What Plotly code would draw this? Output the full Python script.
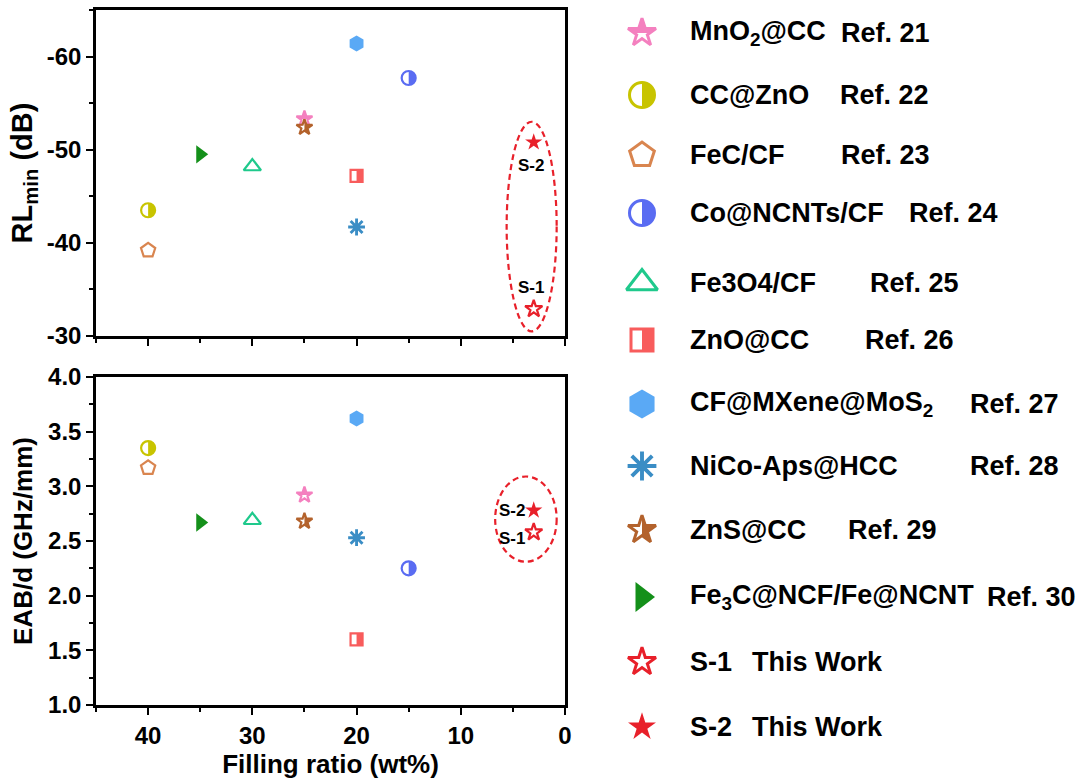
import math
import plotly.graph_objects as go

# ---------------- data ----------------
materials = ["MnO2@CC", "CC@ZnO", "FeC/CF", "Co@NCNTs/CF", "Fe3O4/CF", "ZnO@CC",
             "CF@MXene@MoS2", "NiCo-Aps@HCC", "ZnS@CC", "Fe3C@NCF/Fe@NCNT", "S-1", "S-2"]
legend_labels = ["MnO<sub>2</sub>@CC", "CC@ZnO", "FeC/CF", "Co@NCNTs/CF", "Fe3O4/CF", "ZnO@CC",
                 "CF@MXene@MoS<sub>2</sub>", "NiCo-Aps@HCC", "ZnS@CC",
                 "Fe<sub>3</sub>C@NCF/Fe@NCNT", "S-1", "S-2"]
references = ["Ref. 21", "Ref. 22", "Ref. 23", "Ref. 24", "Ref. 25", "Ref. 26",
              "Ref. 27", "Ref. 28", "Ref. 29", "Ref. 30", "This Work", "This Work"]
filling_ratio = [25, 40, 40, 15, 30, 20, 20, 20, 25, 35, 3, 3]          # wt%
rl_min = [-53.3, -43.5, -39.2, -57.7, -48.2, -47.2, -61.4, -41.7, -52.4, -49.5, -32.9, -50.8]  # dB
eab_d = [2.92, 3.35, 3.17, 2.25, 2.69, 1.60, 3.62, 2.53, 2.68, 2.67, 2.58, 2.78]              # GHz/mm

x_ticks = [0, 10, 20, 30, 40]
rl_ticks = [-60, -50, -40, -30]
rl_tick_text = ["-60", "-50", "-40", "-30"]
eab_ticks = [1.0, 1.5, 2.0, 2.5, 3.0, 3.5, 4.0]
eab_tick_text = ["1.0", "1.5", "2.0", "2.5", "3.0", "3.5", "4.0"]

# ---------------- styles (not data) ----------------
STY = {
    "MnO2@CC":          dict(c="#F480BF", sym="star", half="top", s=12, ls=21),
    "CC@ZnO":           dict(c="#C8C400", sym="circle", half="right", s=14, ls=25),
    "FeC/CF":           dict(c="#D9854F", sym="pentagon-open", s=15, ls=26),
    "Co@NCNTs/CF":      dict(c="#5A6CF2", sym="circle", half="right", s=14, ls=25),
    "Fe3O4/CF":         dict(c="#1FC98C", sym="triangle-up-open", s=15, ls=27),
    "ZnO@CC":           dict(c="#F85C5C", sym="square", half="right", s=12, ls=22),
    "CF@MXene@MoS2":    dict(c="#5AA9F5", sym="hexagon", s=16, ls=29),
    "NiCo-Aps@HCC":     dict(c="#3A8DC5", sym="asterisk", s=14, ls=24),
    "ZnS@CC":           dict(c="#B3622C", sym="star", half="right", s=12, ls=21),
    "Fe3C@NCF/Fe@NCNT": dict(c="#14901A", sym="triangle-right", s=16, ls=26),
    "S-1":              dict(c="#E8202A", sym="star-open", s=13, ls=21),
    "S-2":              dict(c="#E8202A", sym="star", s=13, ls=21),
}
FONT = "Liberation Sans, Arial, sans-serif"
W, H = 1083, 780
PL, PR = 96, 565                 # plot area left/right (px)
TOP_Y = (10, 336)                # top panel (px from top)
BOT_Y = (377, 705)               # bottom panel
LEG_SYM_X, LEG_TXT_X = 642, 688
LEG_ROWS = [33, 95, 155, 213, 283, 340, 404, 466, 530, 597, 662, 727]
REF_X = [839, 838, 839, 907, 868, 863, 968, 968, 846, 985, 750, 750]


def dom_y(a, b):
    return [1 - b / H, 1 - a / H]


# ---- helpers for half-filled symbols (pixel paths, y up) ----
def sym_poly(base, size):
    r = size / 2.0
    if base == "circle":
        return [(r * math.cos(2 * math.pi * k / 48), r * math.sin(2 * math.pi * k / 48)) for k in range(48)]
    if base == "square":
        return [(r, r), (-r, r), (-r, -r), (r, -r)]
    if base == "star":
        rs = 1.4 * r
        svg = [(0.225, -0.309), (0.951, -0.309), (0.363, 0.118), (0.588, 0.809), (0, 0.382),
               (-0.588, 0.809), (-0.363, 0.118), (-0.951, -0.309), (-0.225, -0.309), (0, -1)]
        return [(x * rs, -y * rs) for x, y in svg]
    return []


def clip(poly, f):
    out = []
    n = len(poly)
    for i in range(n):
        cur, prev = poly[i], poly[i - 1]
        fc, fp = f(cur), f(prev)
        if fc >= 0:
            if fp < 0:
                t = fp / (fp - fc)
                out.append((prev[0] + t * (cur[0] - prev[0]), prev[1] + t * (cur[1] - prev[1])))
            out.append(cur)
        elif fp >= 0:
            t = fp / (fp - fc)
            out.append((prev[0] + t * (cur[0] - prev[0]), prev[1] + t * (cur[1] - prev[1])))
    return out


def half_shape(st, size, xv, yv, xref, yref):
    poly = sym_poly(st["sym"], size)
    f = (lambda p: p[0]) if st["half"] == "right" else (lambda p: p[1])
    pts = clip(poly, f)
    path = "M " + " L ".join(f"{x:.2f},{y:.2f}" for x, y in pts) + " Z"
    return dict(type="path", xref=xref, yref=yref, xsizemode="pixel", ysizemode="pixel",
                xanchor=xv, yanchor=yv, path=path, fillcolor=st["c"],
                line=dict(width=0), layer="above")


def marker_of(st, size, lw):
    sym = st["sym"]
    if st.get("half"):
        sym = sym + "-open"
    is_line = sym.endswith("-open") or sym == "asterisk"
    if sym == "asterisk":
        lw = lw * 1.3
    return dict(symbol=sym, size=size, color=st["c"],
                line=dict(color=st["c"], width=lw if is_line else 0))


fig = go.Figure()
shapes = []

for i, m in enumerate(materials):
    st = STY[m]
    # top panel: RLmin
    fig.add_trace(go.Scatter(x=[filling_ratio[i]], y=[rl_min[i]], mode="markers", name=m,
                             xaxis="x2", yaxis="y2", showlegend=False,
                             marker=marker_of(st, st["s"], 2.2)))
    # bottom panel: EAB/d
    fig.add_trace(go.Scatter(x=[filling_ratio[i]], y=[eab_d[i]], mode="markers", name=m,
                             xaxis="x", yaxis="y", showlegend=False,
                             marker=marker_of(st, st["s"], 2.2)))
    # legend symbol
    fig.add_trace(go.Scatter(x=[LEG_SYM_X], y=[LEG_ROWS[i]], mode="markers", name=m,
                             xaxis="x3", yaxis="y3", showlegend=False, hoverinfo="skip",
                             marker=marker_of(st, st["ls"], 3)))
    if st.get("half"):
        shapes.append(half_shape(st, st["s"], filling_ratio[i], rl_min[i], "x2", "y2"))
        shapes.append(half_shape(st, st["s"], filling_ratio[i], eab_d[i], "x", "y"))
        shapes.append(half_shape(st, st["ls"], LEG_SYM_X, LEG_ROWS[i], "x3", "y3"))

# dashed ellipses around this work
red = "#E8202A"
shapes.append(dict(type="circle", xref="x2", yref="y2", x0=5.6, x1=0.8, y0=-53.0, y1=-30.5,
                   line=dict(color=red, width=2.2, dash="6px,4px"), layer="above"))
shapes.append(dict(type="circle", xref="x", yref="y", x0=6.7, x1=0.8, y0=2.31, y1=3.09,
                   line=dict(color=red, width=2.2, dash="6px,4px"), layer="above"))

annotations = []
i1, i2 = materials.index("S-1"), materials.index("S-2")
lab_font = dict(family=FONT, size=17, color="black", weight="bold")
annotations.append(dict(x=filling_ratio[i2], y=rl_min[i2], xref="x2", yref="y2", text="S-2",
                        showarrow=False, yshift=-23, xshift=-3, font=lab_font))
annotations.append(dict(x=filling_ratio[i1], y=rl_min[i1], xref="x2", yref="y2", text="S-1",
                        showarrow=False, yshift=21, xshift=-3, font=lab_font))
annotations.append(dict(x=filling_ratio[i2], y=eab_d[i2], xref="x", yref="y", text="S-2",
                        showarrow=False, xanchor="right", xshift=-7, yshift=0, font=lab_font))
annotations.append(dict(x=filling_ratio[i1], y=eab_d[i1], xref="x", yref="y", text="S-1",
                        showarrow=False, xanchor="right", xshift=-7, yshift=-6, font=lab_font))

leg_font = dict(family=FONT, size=27, color="black", weight="bold")
for i, lab in enumerate(legend_labels):
    annotations.append(dict(x=LEG_TXT_X, y=LEG_ROWS[i], xref="x3", yref="y3", text=lab,
                            showarrow=False, xanchor="left", yanchor="middle", font=leg_font))
    annotations.append(dict(x=REF_X[i], y=LEG_ROWS[i], xref="x3", yref="y3", text=references[i],
                            showarrow=False, xanchor="left", yanchor="middle", font=leg_font))

tick_font = dict(family=FONT, size=24, color="black", weight="bold")
title_font = dict(family=FONT, size=26, color="black", weight="bold")
rl_title_font = dict(family=FONT, size=29, color="black", weight="bold")

axis_common = dict(showline=True, linecolor="black", linewidth=2.5, mirror=True,
                   ticks="outside", ticklen=7, tickwidth=2, tickcolor="black",
                   showgrid=False, zeroline=False, tickfont=tick_font, automargin=False)
minor_common = dict(tickmode="linear", tick0=0, ticks="outside", ticklen=4,
                    tickwidth=2, tickcolor="black")

fig.update_layout(
    width=W, height=H, margin=dict(l=0, r=0, t=0, b=0, pad=0, autoexpand=False),
    paper_bgcolor="white", plot_bgcolor="rgba(0,0,0,0)",
    font=dict(family=FONT, color="black"),
    showlegend=False,
    xaxis=dict(domain=[PL / W, PR / W], range=[45, 0], anchor="y",
               tickvals=x_ticks, minor=dict(dtick=5, **minor_common),
               title=dict(text="Filling ratio (wt%)", font=title_font, standoff=6),
               **axis_common),
    yaxis=dict(domain=dom_y(*BOT_Y), range=[1, 4], anchor="x",
               tickvals=eab_ticks, ticktext=eab_tick_text,
               minor=dict(dtick=0.25, **minor_common),
               title=dict(text="EAB/d (GHz/mm)", font=title_font, standoff=8),
               **axis_common),
    xaxis2=dict(domain=[PL / W, PR / W], range=[45, 0], anchor="y2",
                tickvals=x_ticks, showticklabels=False,
                minor=dict(dtick=5, **minor_common),
                **axis_common),
    yaxis2=dict(domain=dom_y(*TOP_Y), range=[-30, -65], anchor="x2",
                tickvals=rl_ticks, ticktext=rl_tick_text,
                minor=dict(dtick=5, **minor_common),
                title=dict(text="RL<sub>min</sub> (dB)", font=rl_title_font, standoff=6),
                **axis_common),
    xaxis3=dict(domain=[600 / W, 1], range=[600, W], anchor="y3", visible=False,
                fixedrange=True, automargin=False),
    yaxis3=dict(domain=[0, 1], range=[H, 0], anchor="x3", visible=False,
                fixedrange=True, automargin=False),
    shapes=shapes,
    annotations=annotations,
)

fig.write_html("out.html")
